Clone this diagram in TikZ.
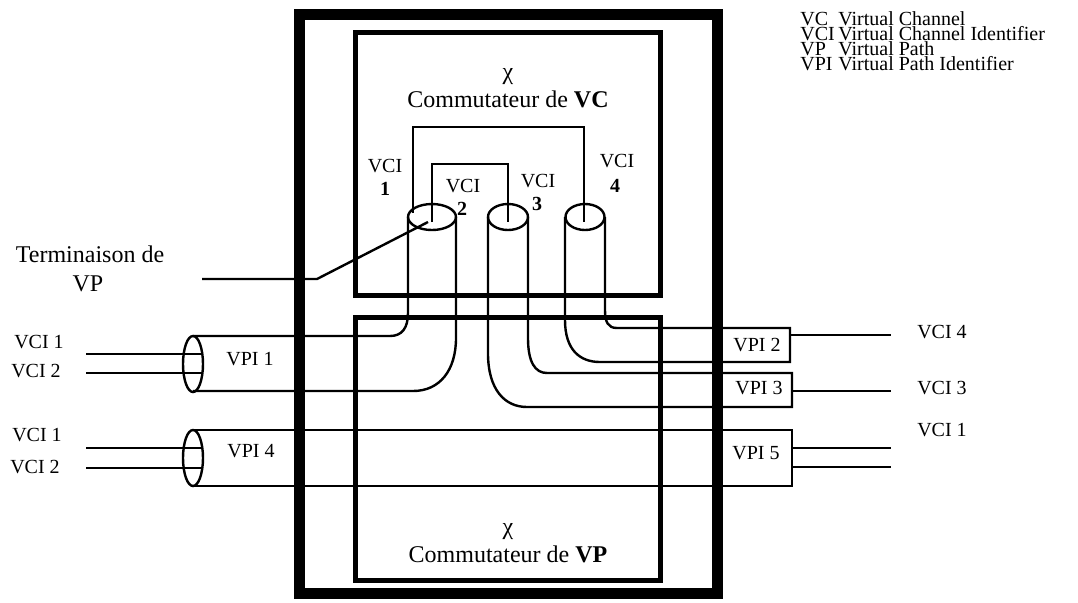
\documentclass[tikz,border=0pt]{standalone}
\usepackage{fontspec}
\setmainfont{Liberation Serif}

\begin{document}
\begin{tikzpicture}[x=0.5pt,y=-0.5pt,
	tube/.style={line width=1.2pt},
	wire/.style={line width=1pt},
	txt/.style={inner sep=0pt,anchor=base,font=\fontsize{10}{12}\selectfont},
	leg/.style={inner sep=0pt,anchor=base west,align=left,font=\fontsize{10}{7.5}\selectfont},
	title/.style={inner sep=0pt,anchor=base,font=\fontsize{12}{14}\selectfont}]
	\useasboundingbox (0,0) rectangle (1078,602);
	\fill[white] (0,0) rectangle (1078,602);
	\draw[line width=5.5pt] (299,14) rectangle (717,593);
	\draw[line width=2.5pt] (355,32) rectangle (660,295);
	\draw[line width=2.5pt] (355,317) rectangle (660,580);
	\node[title] (chivc) at (508,79) {χ};
	\node[title] (vcsw) at (508,107) {Commutateur de \textbf{VC}};
	\node[title] (chivp) at (508,534) {χ};
	\node[title] (vpsw) at (508,562) {Commutateur de \textbf{VP}};
	\draw[tube] (432,217) ellipse [x radius=24, y radius=13];
	\draw[tube] (508,217) ellipse [x radius=20, y radius=13];
	\draw[tube] (585,217) ellipse [x radius=19.5, y radius=13];
	\draw[wire] (432,222) -- (432,164) -- (508,164) -- (508,222);
	\draw[wire] (413,213) -- (413,127) -- (584,127) -- (584,222);
	\draw[tube] (193,336) -- (390,336) .. controls (402,336) and (408,328) .. (408,313) -- (408,217);
	\draw[tube] (193,391) -- (413,391) .. controls (440,391) and (456,370) .. (456,338) -- (456,217);
	\draw[tube] (488,217) -- (488,353) .. controls (488,390) and (505,407) .. (527,407) -- (792,407) -- (792,373) -- (547,373);
	\draw[tube] (528,217) -- (528,338) .. controls (528,362) and (535,373) .. (547,373);
	\draw[tube] (565,217) -- (565,320) .. controls (565,350) and (580,362) .. (600,362) -- (790,362) -- (790,328) -- (617,328);
	\draw[tube] (605,217) -- (605,310) .. controls (605,322) and (608,328) .. (617,328);
	\draw[tube] (193,430) -- (792,430) -- (792,486) -- (193,486);
	\draw[tube] (193,364) ellipse [x radius=10, y radius=28];
	\draw[tube] (193,458) ellipse [x radius=10, y radius=28];
	\draw[tube] (86,354) -- (203,354);
	\draw[tube] (86,373) -- (203,373);
	\draw[tube] (86,448) -- (203,448);
	\draw[tube] (86,468) -- (203,468);
	\draw[tube] (790,335) -- (891,335);
	\draw[tube] (792,391) -- (891,391);
	\draw[tube] (792,448) -- (891,448);
	\draw[tube] (792,467) -- (891,467);
	\draw[tube] (202,279) -- (317,279) -- (428,222);
	\node[title] (term) at (90,262) {Terminaison de};
	\node[title] (termvp) at (88,291) {VP};
	\node[txt] (vcia) at (385,172) {VCI};
	\node[txt] (numa) at (385,195) {\textbf{1}};
	\node[txt] (vcib) at (463,192) {VCI};
	\node[txt] (numb) at (462,215) {\textbf{2}};
	\node[txt] (vcic) at (538,187) {VCI};
	\node[txt] (numc) at (537,210) {\textbf{3}};
	\node[txt] (vcid) at (617,167) {VCI};
	\node[txt] (numd) at (615,192) {\textbf{4}};
	\node[txt] (ina) at (39,348) {VCI 1};
	\node[txt] (inb) at (36,377) {VCI 2};
	\node[txt] (inc) at (37,441) {VCI 1};
	\node[txt] (ind) at (35,473) {VCI 2};
	\node[txt] (vpia) at (250,365) {VPI 1};
	\node[txt] (vpid) at (251,457) {VPI 4};
	\node[txt] (vpib) at (757,351) {VPI 2};
	\node[txt] (vpic) at (759,394) {VPI 3};
	\node[txt] (vpie) at (756,459) {VPI 5};
	\node[txt] (outd) at (942,338) {VCI 4};
	\node[txt] (outc) at (942,394) {VCI 3};
	\node[txt] (outa) at (942,436) {VCI 1};
	\node[leg] (abbr) at (800,70) {VC\\VCI\\VP\\VPI};
	\node[leg] (defs) at (838,70) {Virtual Channel\\Virtual Channel Identifier\\Virtual Path\\Virtual Path Identifier};
\end{tikzpicture}
\end{document}
